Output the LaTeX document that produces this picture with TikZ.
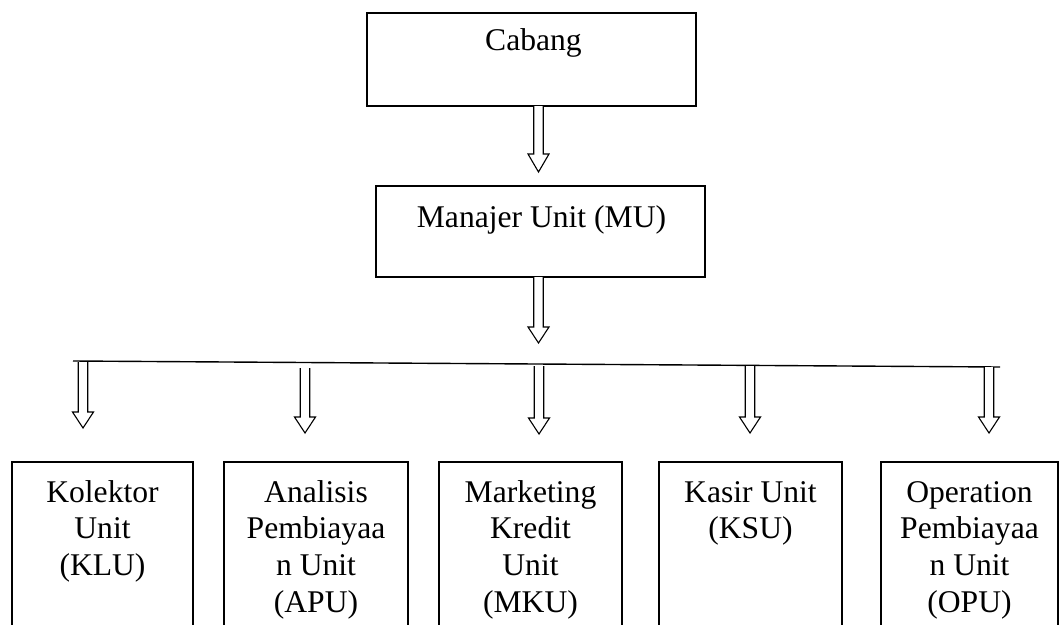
\documentclass[tikz,border=0pt]{standalone}
\usepackage{fontspec}
\setmainfont{Liberation Serif}
\usetikzlibrary{calc}
\tikzset{
  box/.style={draw, line width=1.4pt, inner sep=0pt, outer sep=0pt},
  txt/.style={align=center, inner sep=0pt, anchor=north, font=\fontsize{31.6}{36.7}\selectfont},
  harr/.style={draw, line width=1.1pt, fill=white, line join=miter},
  bus/.style={draw, line width=1.4pt}
}
% #1 top (its y is used), #2 tip, #3 head length
\newcommand{\blockarr}[3]{%
  \draw[harr] let \p1=(#1), \p2=(#2) in
    (\x2-4.75pt,\y1) -- (\x2-4.75pt,\y2+#3) -- (\x2-10.5pt,\y2+#3) -- (\x2,\y2)
    -- (\x2+10.5pt,\y2+#3) -- (\x2+4.75pt,\y2+#3) -- (\x2+4.75pt,\y1);}
\begin{document}
\begin{tikzpicture}[x=1pt,y=-1pt]
\useasboundingbox (0,0) rectangle (1059,624);
\clip (0,0) rectangle (1059,624);

% top boxes
\node[box, minimum width=329pt, minimum height=93pt] (cab) at (531.5,59.5) {};
\node[txt] (cabt) at (533.5,24.3) {\strut Cabang};
\node[box, minimum width=329pt, minimum height=91pt] (mu) at (540.5,231.5) {};
\node[txt] (mut) at (541.5,201.3) {\strut Manajer Unit (MU)};

% bottom boxes (cut by the lower edge)
\node[box, minimum width=181pt, minimum height=238pt] (klu) at (102.5,581) {};
\node[box, minimum width=184pt, minimum height=238pt] (apu) at (316,581) {};
\node[box, minimum width=183pt, minimum height=238pt] (mku) at (530.5,581) {};
\node[box, minimum width=183pt, minimum height=238pt] (ksu) at (750.5,581) {};
\node[box, minimum width=177pt, minimum height=238pt] (opu) at (969.5,581) {};

\node[txt] (klut) at (102.5,476.3) {\strut Kolektor\\Unit\\(KLU)};
\node[txt] (aput) at (316,476.3) {\strut Analisis\\Pembiayaa\\n Unit\\(APU)};
\node[txt] (mkut) at (530.5,476.3) {\strut Marketing\\Kredit\\Unit\\(MKU)};
\node[txt] (ksut) at (750.5,476.3) {\strut Kasir Unit\\(KSU)};
\node[txt] (oput) at (969.5,476.3) {\strut Operation\\Pembiayaa\\n Unit\\(OPU)};

% bus line
\coordinate (busL) at (73,361);
\coordinate (busR) at (1000,367);
\draw[bus] (busL) -- (busR);

% arrow tips and tops
\coordinate (t1) at (538.5,172);
\coordinate (t2) at (538.5,343);
\coordinate (kluTop) at (83,362);   \coordinate (kluTip) at (83,428);
\coordinate (apuTop) at (305,368);  \coordinate (apuTip) at (305,433);
\coordinate (mkuTop) at (539,366);  \coordinate (mkuTip) at (539,434);
\coordinate (ksuTop) at (750,366);  \coordinate (ksuTip) at (750,433);
\coordinate (opuTop) at (989,367);  \coordinate (opuTip) at (989,433);

\blockarr{cab.south}{t1}{18pt}
\blockarr{mu.south}{t2}{16pt}
\blockarr{kluTop}{kluTip}{16pt}
\blockarr{apuTop}{apuTip}{16pt}
\blockarr{mkuTop}{mkuTip}{16pt}
\blockarr{ksuTop}{ksuTip}{16pt}
\blockarr{opuTop}{opuTip}{16pt}
\end{tikzpicture}
\end{document}
